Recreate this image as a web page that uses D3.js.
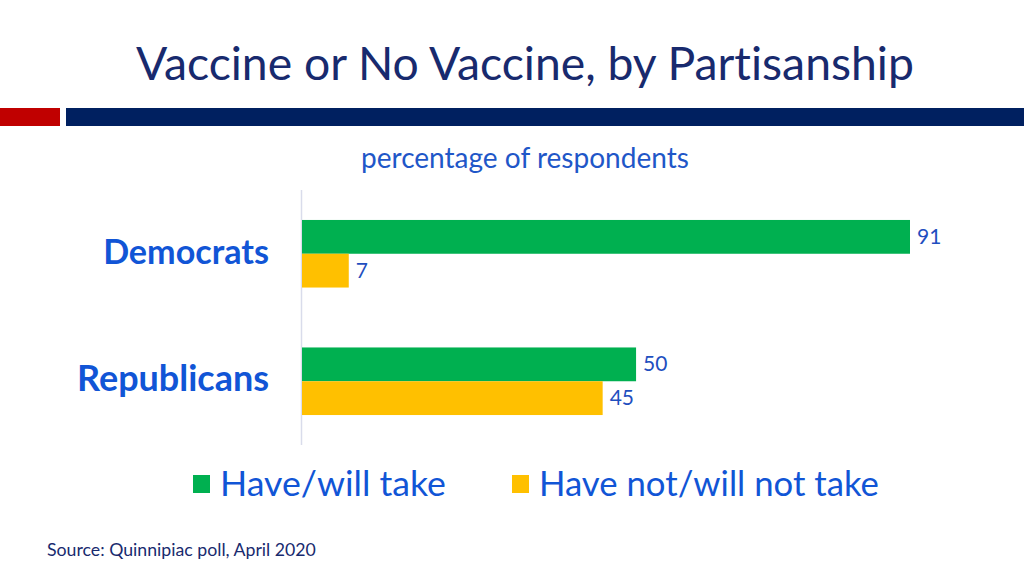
<!DOCTYPE html>
<html><head><meta charset="utf-8">
<script src="https://cdn.jsdelivr.net/npm/d3@7"></script>
<style>body{margin:0;background:#fff}svg{display:block}text{font-variant-ligatures:none}</style>
</head><body>
<svg id="c" width="1024" height="576"></svg>
<script>
const categories = ["Democrats", "Republicans"];
const seriesNames = ["Have/will take", "Have not/will not take"];
const haveTake = [91, 50];
const notTake = [7, 45];

const colors = ["#00B050", "#FFC000"];
const FONT = "Lato, 'Open Sans', sans-serif";
const svg = d3.select("#c");

function fit(sel, w) {
  const n = sel.node();
  const fs = parseFloat(sel.attr("font-size"));
  const l = n.getComputedTextLength();
  sel.attr("font-size", fs * w / l);
}

// header
const t = svg.append("text").attr("x", 136).attr("y", 80).attr("font-family", FONT)
  .attr("font-size", 44).attr("fill", "#182A6E").text("Vaccine or No Vaccine, by Partisanship");
fit(t, 778);
svg.append("rect").attr("x", 0).attr("y", 108).attr("width", 60).attr("height", 18).attr("fill", "#C00000");
svg.append("rect").attr("x", 66).attr("y", 108).attr("width", 958).attr("height", 18).attr("fill", "#002060");

const s = svg.append("text").attr("x", 361).attr("y", 168).attr("font-family", FONT)
  .attr("font-size", 22).attr("fill", "#1F57C8").text("percentage of respondents");
fit(s, 328);

const x = d3.scaleLinear().domain([0, 91]).range([302, 910]);
const y = d3.scaleBand().domain(categories).range([190, 445]).paddingInner(0.47).paddingOuter(0.235);
const sub = d3.scaleBand().domain([0, 1]).range([0, y.bandwidth()]);

svg.append("line").attr("x1", 301.5).attr("x2", 301.5).attr("y1", 190).attr("y2", 445)
  .attr("stroke", "#D9DCEB").attr("stroke-width", 1.5);

const labW = [166, 192];
const data = categories.map((c, i) => ({ c, v: [haveTake[i], notTake[i]] }));
const g = svg.append("g");
data.forEach((d, i) => {
  d.v.forEach((v, k) => {
    g.append("rect").attr("x", x(0)).attr("y", y(d.c) + sub(k))
      .attr("width", x(v) - x(0)).attr("height", sub.bandwidth()).attr("fill", colors[k]);
    g.append("text").attr("x", x(v) + 7).attr("y", y(d.c) + sub(k) + sub.bandwidth() / 2 + 7)
      .attr("font-family", FONT).attr("font-size", 21).attr("fill", "#1F4FBF").text(v);
  });
  const lab = g.append("text").attr("x", 269).attr("y", y(d.c) + y.bandwidth() / 2 + 10)
    .attr("text-anchor", "end").attr("font-family", FONT).attr("font-weight", "bold")
    .attr("font-size", 30).attr("fill", "#1155D6").text(d.c);
  fit(lab, labW[i]);
});

// legend
const legX = [193, 512];
const legT = [226, 340];
seriesNames.forEach((n, k) => {
  svg.append("rect").attr("x", legX[k]).attr("y", 475).attr("width", 17).attr("height", 18).attr("fill", colors[k]);
  const lt = svg.append("text").attr("x", legX[k] + 27).attr("y", 496).attr("font-family", FONT)
    .attr("font-size", 31).attr("fill", "#1155D6").text(n);
  fit(lt, legT[k]);
});

const src = svg.append("text").attr("x", 47).attr("y", 556).attr("font-family", FONT)
  .attr("font-size", 15).attr("fill", "#182A6E").text("Source: Quinnipiac poll, April 2020");
fit(src, 269);
</script>
</body></html>
